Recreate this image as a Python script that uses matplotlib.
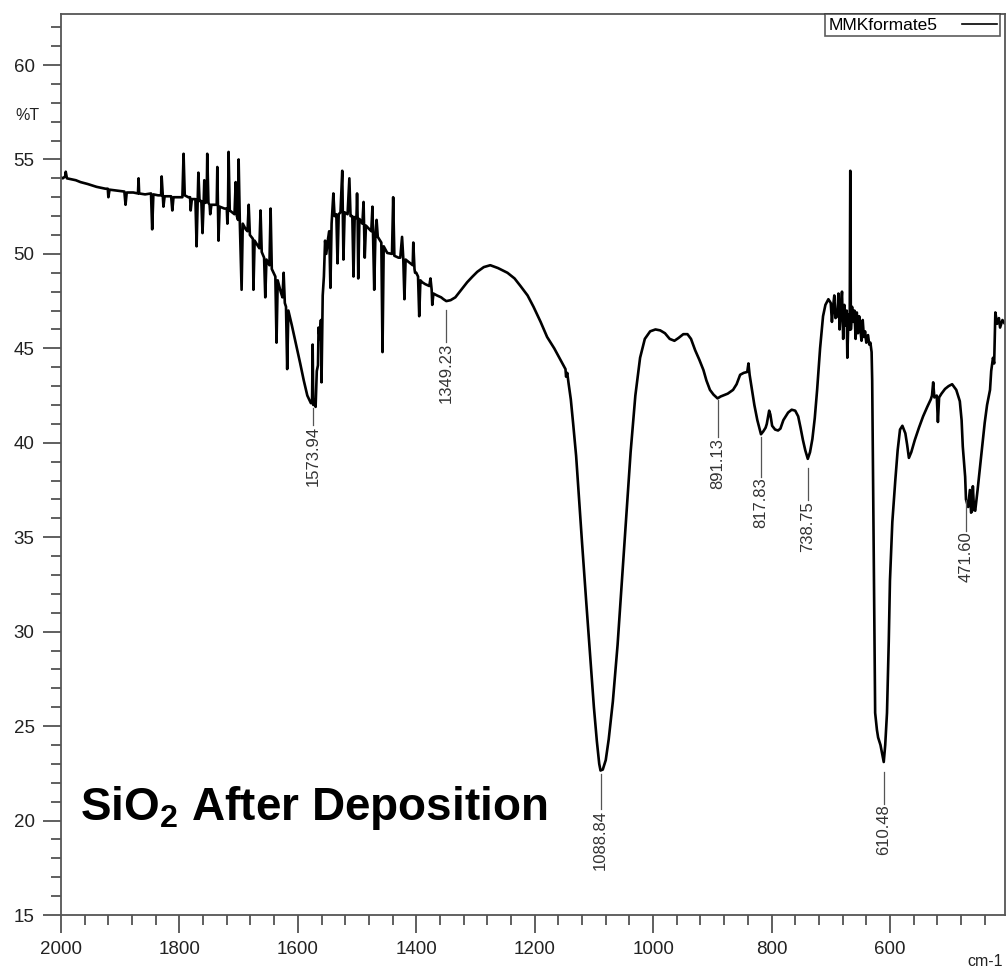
import matplotlib.pyplot as plt
from matplotlib.ticker import MultipleLocator

plt.rcParams['font.family'] = ['Liberation Sans', 'DejaVu Sans']
plt.rcParams['mathtext.fontset'] = 'custom'
plt.rcParams['mathtext.bf'] = 'Liberation Sans:bold'
plt.rcParams['mathtext.default'] = 'bf'

# FTIR spectrum, wavenumber (cm-1) vs %T
wavenumber = [
    2000, 1997, 1993, 1992, 1990, 1975, 1967, 1955, 1940, 1925, 1921, 1920, 1918,
    1905, 1893, 1891, 1889, 1878, 1870, 1869, 1868, 1858, 1848, 1846, 1844, 1836,
    1831, 1830, 1828, 1827, 1825, 1814, 1812, 1810, 1800, 1795, 1793, 1791, 1785,
    1782, 1781, 1779, 1773, 1771, 1769, 1768, 1766, 1763, 1761, 1759, 1758, 1756,
    1754, 1753, 1751, 1749, 1748, 1746, 1737, 1736, 1735, 1734, 1732, 1724, 1720,
    1719, 1718, 1717, 1715, 1707, 1705, 1703, 1701, 1700, 1698, 1695, 1693, 1688,
    1685, 1683, 1681, 1676, 1675, 1673, 1665, 1663, 1661, 1657, 1655, 1653, 1648,
    1646, 1644, 1638, 1636, 1634, 1629, 1626, 1624, 1622, 1620, 1618, 1616, 1610,
    1603, 1596, 1590, 1584, 1578, 1576, 1575, 1573.94, 1572, 1570, 1568, 1566,
    1565, 1563, 1561, 1560, 1558, 1556, 1554, 1552, 1549, 1547, 1545, 1543, 1540,
    1538, 1535, 1533, 1531, 1528, 1525, 1524, 1523, 1521, 1516, 1513, 1511, 1508,
    1506, 1504, 1501, 1500, 1499, 1498, 1496, 1491, 1489, 1487, 1485, 1476, 1474,
    1473, 1471, 1469, 1467, 1465, 1459, 1457, 1455, 1449, 1441, 1439, 1437, 1430,
    1427, 1424, 1422, 1420, 1418, 1410, 1406, 1405, 1403, 1402, 1400, 1397, 1395,
    1393, 1390, 1385, 1378, 1376, 1374, 1373, 1371, 1365, 1358, 1354, 1349.23,
    1342, 1334, 1324, 1314, 1305, 1297, 1286, 1275, 1262, 1246, 1234, 1224, 1212,
    1202, 1190, 1179, 1167, 1155, 1150, 1148, 1147, 1145, 1143, 1139, 1135, 1130,
    1125, 1120, 1113, 1106, 1100, 1095, 1091, 1088.84, 1085, 1080, 1075, 1068,
    1060, 1052, 1045, 1038, 1030, 1022, 1014, 1005, 996, 988, 980, 972, 964, 957,
    949, 942, 936, 929, 922, 915, 910, 904, 898, 891.13, 886, 882, 874, 865, 859,
    853, 847, 841, 839, 837, 833, 829, 824, 820, 817.83, 814, 810, 808, 804, 802,
    799, 794, 789, 785, 780, 772, 766, 760, 755, 751, 747, 743, 738.75, 735, 731,
    727, 723, 718, 713, 709, 704, 700, 698, 696, 694, 692, 689, 687, 685, 683, 681,
    679, 677, 675, 673, 672, 670, 668, 667, 666, 664, 662, 660, 658, 656, 654, 652,
    650, 648, 646, 644, 642, 640, 637, 635, 633, 631, 630, 628, 625, 622, 620, 616,
    613, 610.48, 608, 605, 602, 600, 596, 591, 587, 583, 579, 574, 571, 568, 564,
    558, 551, 544, 537, 531, 529, 527, 525, 521, 519, 517, 513, 507, 501, 495, 488,
    482, 479, 477, 473, 471.60, 468, 465, 463, 461, 460, 458, 456, 452, 448, 444,
    440, 436, 431, 429, 426, 424, 422, 419, 416, 414, 410, 406, 404,
]
transmittance = [
    54.05, 54.0, 54.1, 54.35, 54.0, 53.9, 53.8, 53.7, 53.55, 53.45, 53.45, 53.0, 53.4,
    53.35, 53.3, 52.6, 53.25, 53.25, 53.2, 54.0, 53.2, 53.15, 53.2, 51.3, 53.15, 53.1,
    53.1, 54.1, 53.0, 52.5, 53.05, 53.05, 52.3, 53.0, 53.0, 53.0, 55.3, 53.1, 53.0,
    53.0, 52.3, 52.9, 52.9, 50.4, 52.9, 54.3, 52.8, 52.8, 51.1, 52.8, 53.9, 52.7,
    52.75, 55.3, 52.7, 52.6, 52.1, 52.6, 52.6, 54.6, 52.5, 50.7, 52.5, 52.4, 52.4,
    51.6, 52.35, 55.4, 52.3, 52.1, 53.8, 52.0, 51.8, 55.0, 51.7, 48.1, 51.6, 51.3,
    51.2, 52.6, 51.0, 50.8, 48.1, 50.7, 50.3, 52.3, 50.1, 49.8, 47.7, 49.7, 49.4,
    52.4, 49.2, 48.8, 45.3, 48.6, 48.0, 47.7, 49.0, 47.4, 47.2, 43.9, 47.0, 46.2,
    45.2, 44.2, 43.3, 42.5, 42.1, 42.1, 45.2, 42.0, 42.3, 41.9, 43.8, 44.1,
    46.1, 45.5, 46.5, 43.2, 47.8, 48.8, 50.7, 50.0, 50.8, 51.2, 48.2, 51.6, 53.2,
    52.0, 52.1, 49.5, 52.1, 52.2, 54.4, 52.2, 49.7, 52.2, 52.1, 54.0, 52.0, 52.0,
    48.8, 51.95, 51.9, 53.2, 51.9, 48.7, 51.85, 51.6, 52.75, 49.8, 51.5, 51.2, 52.5,
    51.1, 48.1, 51.0, 51.8, 50.9, 50.6, 44.8, 50.4, 50.05, 50.0, 53.0, 49.9, 49.8,
    49.8, 50.9, 49.8, 47.6, 49.7, 49.5, 49.4, 50.6, 49.2, 49.0, 49.0, 48.8, 46.7,
    48.6, 48.5, 48.4, 48.3, 48.7, 48.1, 47.3, 47.9, 47.8, 47.7, 47.6, 47.5,
    47.55, 47.7, 48.1, 48.5, 48.8, 49.05, 49.3, 49.4, 49.25, 49.0, 48.7, 48.3, 47.8,
    47.2, 46.4, 45.6, 45.0, 44.3, 44.0, 43.9, 43.5, 43.7, 43.2, 42.3, 41.0, 39.3,
    37.0, 34.7, 31.6, 28.6, 26.0, 24.2, 23.0, 22.65, 22.7, 23.2, 24.3, 26.3,
    29.3, 33.0, 36.3, 39.5, 42.5, 44.5, 45.5, 45.9, 46.0, 45.95, 45.8, 45.5, 45.4, 45.55,
    45.75, 45.75, 45.5, 44.9, 44.4, 43.85, 43.3, 42.8, 42.55, 42.35, 42.45, 42.5, 42.6, 42.8, 43.1,
    43.6, 43.7, 43.75, 44.2, 43.6, 42.8, 42.0, 41.2, 40.7, 40.45, 40.6, 40.8, 41.0, 41.7, 41.5,
    40.9, 40.7, 40.65, 40.75, 41.2, 41.6, 41.75, 41.7, 41.4, 40.8, 40.15, 39.6, 39.15, 39.5, 40.2,
    41.3, 42.8, 45.0, 46.7, 47.3, 47.6, 47.4, 46.4, 47.2, 47.8, 46.6, 46.7, 47.9, 46.0, 47.1, 48.0,
    45.5, 47.3, 46.2, 47.0, 44.5, 46.8, 46.0, 54.4, 46.0, 47.2, 46.4, 47.0, 45.5, 46.9, 45.8, 46.7,
    46.0, 45.4, 46.5, 45.6, 45.9, 45.3, 45.7, 45.2, 45.3, 44.8, 43.3, 36.3, 25.7, 24.8, 24.4, 24.0,
    23.5, 23.1, 24.0, 25.7, 29.5, 32.7, 35.8, 38.0, 39.6, 40.7, 40.9, 40.5, 39.9, 39.2, 39.5,
    40.15, 40.8, 41.4, 41.9, 42.3, 42.5, 43.2, 42.4, 42.5, 41.1, 42.4, 42.6, 42.85, 43.0, 43.1, 42.8,
    42.2, 41.2, 39.8, 38.2, 37.0, 36.6, 37.5, 36.3, 36.4, 37.7, 36.5, 36.4, 37.5, 38.7, 39.9,
    41.05, 42.0, 42.8, 43.8, 44.5, 44.2, 46.9, 46.3, 46.6, 46.1, 46.5, 46.3, 46.4,
]

peak_labels = ['1573.94', '1349.23', '1088.84', '891.13', '817.83', '738.75', '610.48', '471.60']
peak_wn = [float(p) for p in peak_labels]
# gap below the curve and length of each label stem, in %T
stem_gap = [0.15, 0.45, 0.2, 0.1, 0.15, 0.5, 0.55, 0.05]
stem_len = [0.9, 1.7, 1.85, 1.95, 2.1, 1.7, 1.65, 1.6]

fig = plt.figure(figsize=(10.08, 9.77), dpi=100)
ax = fig.add_axes([61 / 1008, 1 - 915 / 977, 944 / 1008, 901 / 977])

ax.plot(wavenumber, transmittance, color='black', lw=1.9, label='MMKformate5')

for wn, lab, gap, ln in zip(peak_wn, peak_labels, stem_gap, stem_len):
    t = transmittance[wavenumber.index(wn)]
    top = t - gap
    bot = top - ln
    ax.plot([wn, wn], [top, bot], color='#555555', lw=0.9)
    ax.text(wn, bot - 0.05, lab, rotation=90, ha='center', va='top',
            fontsize=12, color='#333333')

ax.set_xlim(2000, 405.7)
ax.set_ylim(15, 62.7)
ax.xaxis.set_major_locator(MultipleLocator(200))
ax.xaxis.set_minor_locator(MultipleLocator(40))
ax.yaxis.set_major_locator(MultipleLocator(5))
ax.yaxis.set_minor_locator(MultipleLocator(1))
ax.set_xticks([2000, 1800, 1600, 1400, 1200, 1000, 800, 600])
ax.tick_params(axis='both', which='major', length=13, width=1.2, color='#444444',
               labelsize=13.5, labelcolor='#222222', pad=6)
ax.tick_params(axis='both', which='minor', length=7, width=1.2, color='#444444')
for s in ax.spines.values():
    s.set_color('#555555')
    s.set_linewidth(1.3)

fig.text(27 / 1008, 1 - 115 / 977, '%T', ha='center', va='center', fontsize=11.5,
         color='#222222')
fig.text(985 / 1008, 1 - 962 / 977, 'cm-1', ha='center', va='center', fontsize=11.5,
         color='#222222')

ax.text((80 - 61) / 944, (915 - 820) / 901, r'SiO$_2$ After Deposition',
        transform=ax.transAxes, fontsize=33, fontweight='bold', color='black',
        ha='left', va='baseline')

leg = ax.legend(loc='upper right', bbox_to_anchor=(1000 / 1008, 1 - 14 / 977),
                bbox_transform=fig.transFigure, markerfirst=False, frameon=True,
                fancybox=False, borderaxespad=0, fontsize=12.5, handlelength=2.0,
                borderpad=0.2, handletextpad=1.4)
leg.get_frame().set_edgecolor('#333333')
leg.get_frame().set_linewidth(1.2)
leg.get_lines()[0].set_linewidth(1.2)

plt.savefig('out.png', dpi=100)
